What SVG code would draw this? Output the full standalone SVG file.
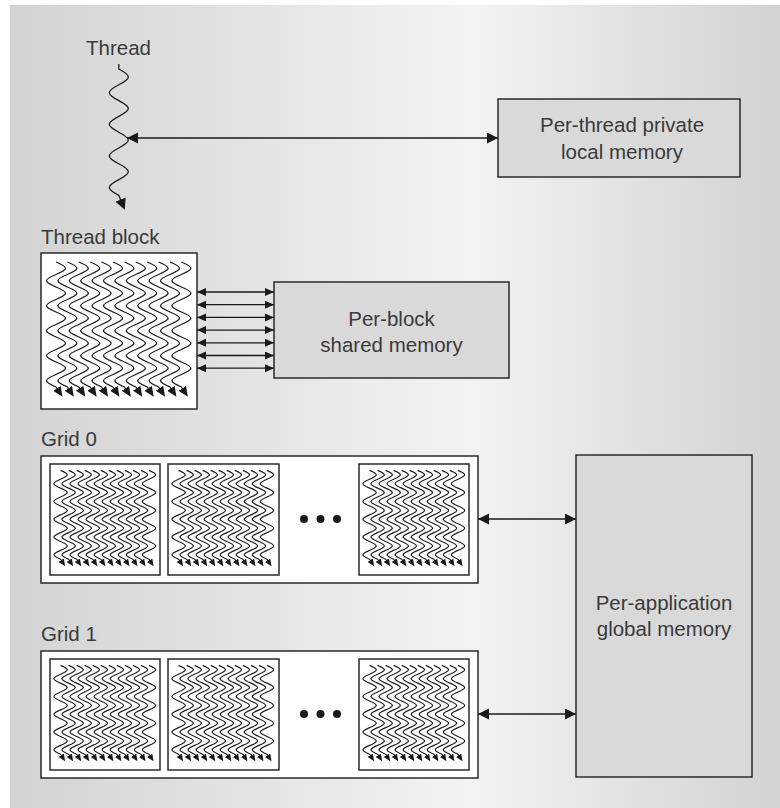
<svg xmlns="http://www.w3.org/2000/svg" xmlns:xlink="http://www.w3.org/1999/xlink" width="780" height="808" viewBox="0 0 780 808">
<style>
  .lbl { font-family: "Liberation Sans", Arial, sans-serif; font-size: 20.5px; fill: #3a3a3a; }
  .ctr { text-anchor: middle; }
  .mem { fill: #d9d9da; stroke: #2a2a2a; stroke-width: 1.5; }
  .blk { fill: #ffffff; stroke: #2a2a2a; stroke-width: 1.5; }
  .wave { fill: none; stroke: #1a1a1a; }
  .conn { stroke: #1a1a1a; stroke-width: 1.3; fill: none; }
</style>
<defs>
  <linearGradient id="bg" x1="0" y1="0" x2="1" y2="0">
    <stop offset="0" stop-color="#d3d3d4"/>
    <stop offset="0.6" stop-color="#f3f3f3"/>
    <stop offset="1" stop-color="#d2d2d3"/>
  </linearGradient>
  <marker id="ah" markerUnits="userSpaceOnUse" markerWidth="12" markerHeight="12" refX="11" refY="5.5" orient="auto-start-reverse">
    <path d="M0,0 L11,5.5 L0,11 z" fill="#1a1a1a"/>
  </marker>
  <marker id="ahs" markerUnits="userSpaceOnUse" markerWidth="10" markerHeight="9" refX="9" refY="4" orient="auto-start-reverse">
    <path d="M0,0 L9,4 L0,8 z" fill="#1a1a1a"/>
  </marker>
  <marker id="ta" markerUnits="userSpaceOnUse" markerWidth="11" markerHeight="11" refX="2" refY="4.5" orient="auto">
    <path d="M0,0 L10,4.5 L0,9 z" fill="#1a1a1a"/>
  </marker>
  <marker id="tb" markerUnits="userSpaceOnUse" markerWidth="12" markerHeight="12" refX="2" refY="5.5" orient="auto">
    <path d="M0,0 L11,5.5 L0,11 z" fill="#1a1a1a"/>
  </marker>
  <path id="w" class="wave" marker-end="url(#ta)" d="M0,9 c12.7,5.3 12.7,7.2 0,12.5 s-12.7,7.2 0,12.5 s12.7,7.2 0,12.5 s-12.7,7.2 0,12.5 s12.7,7.2 0,12.5 s-12.7,7.2 0,12.5 s12.7,7.2 0,12.5 s-12.7,7.2 0,12.5 s12.7,7.2 0,12.5 s-12.7,7.2 0,12.5 l2,3"/>
  <g id="threads">
    <use xlink:href="#w" x="15"/>
    <use xlink:href="#w" x="26.4"/>
    <use xlink:href="#w" x="37.8"/>
    <use xlink:href="#w" x="49.2"/>
    <use xlink:href="#w" x="60.6"/>
    <use xlink:href="#w" x="72"/>
    <use xlink:href="#w" x="83.4"/>
    <use xlink:href="#w" x="94.8"/>
    <use xlink:href="#w" x="106.2"/>
    <use xlink:href="#w" x="117.6"/>
    <use xlink:href="#w" x="129"/>
    <use xlink:href="#w" x="140.4"/>
  </g>
</defs>

<rect x="10" y="5" width="770" height="803" fill="url(#bg)"/>

<g id="thread">
  <text class="lbl ctr" x="118.5" y="55">Thread</text>
  <path class="wave" stroke-width="1.3" marker-end="url(#tb)" d="M118.8,64 c0,2 0,3 0,5 c12.7,6.7 12.7,9.1 0,15.8 s-12.7,9.1 0,15.8 s12.7,9.1 0,15.8 s-12.7,9.1 0,15.8 s12.7,9.1 0,15.8 s-12.7,9.1 0,15.8 s12.7,9.1 0,15.8 s-12.7,9.1 0,15.8 l2.5,6"/>
</g>

<g id="local-memory">
  <rect class="mem" x="498" y="99" width="242" height="78"/>
  <text class="lbl ctr" x="622" y="132">Per-thread private</text>
  <text class="lbl ctr" x="622" y="159">local memory</text>
</g>

<g id="thread-block">
  <text class="lbl" x="41" y="244">Thread block</text>
  <rect class="blk" x="41" y="253" width="156" height="156"/>
  <use xlink:href="#threads" stroke-width="1.3" transform="translate(41,253)"/>
</g>

<g id="shared-memory">
  <rect class="mem" x="274" y="282" width="235" height="96"/>
  <text class="lbl ctr" x="391.5" y="326">Per-block</text>
  <text class="lbl ctr" x="391.5" y="352">shared memory</text>
</g>

<g id="grid0">
  <text class="lbl" x="41" y="446">Grid 0</text>
  <rect class="blk" x="41" y="456" width="437" height="127" stroke-width="1.3"/>
  <rect class="blk" x="50" y="464" width="110" height="111"/>
  <use xlink:href="#threads" stroke-width="1.7" transform="translate(50,464) scale(0.705,0.711)"/>
  <rect class="blk" x="168" y="464" width="111" height="111"/>
  <use xlink:href="#threads" stroke-width="1.7" transform="translate(168,464) scale(0.705,0.711)"/>
  <rect class="blk" x="359" y="464" width="110" height="111"/>
  <use xlink:href="#threads" stroke-width="1.7" transform="translate(359,464) scale(0.705,0.711)"/>
  <circle cx="304" cy="519" r="4" fill="#1a1a1a"/>
  <circle cx="320.5" cy="519" r="4" fill="#1a1a1a"/>
  <circle cx="337" cy="519" r="4" fill="#1a1a1a"/>
</g>

<g id="grid1">
  <text class="lbl" x="41" y="641">Grid 1</text>
  <rect class="blk" x="41" y="651" width="437" height="127" stroke-width="1.3"/>
  <rect class="blk" x="50" y="659" width="110" height="111"/>
  <use xlink:href="#threads" stroke-width="1.7" transform="translate(50,659) scale(0.705,0.711)"/>
  <rect class="blk" x="168" y="659" width="111" height="111"/>
  <use xlink:href="#threads" stroke-width="1.7" transform="translate(168,659) scale(0.705,0.711)"/>
  <rect class="blk" x="359" y="659" width="110" height="111"/>
  <use xlink:href="#threads" stroke-width="1.7" transform="translate(359,659) scale(0.705,0.711)"/>
  <circle cx="304" cy="714" r="4" fill="#1a1a1a"/>
  <circle cx="320.5" cy="714" r="4" fill="#1a1a1a"/>
  <circle cx="337" cy="714" r="4" fill="#1a1a1a"/>
</g>

<g id="global-memory">
  <rect class="mem" x="576" y="455" width="176" height="322"/>
  <text class="lbl ctr" x="664" y="610">Per-application</text>
  <text class="lbl ctr" x="664" y="636">global memory</text>
</g>

<g id="connectors">
  <line class="conn" x1="127" y1="138" x2="498" y2="138" marker-start="url(#ah)" marker-end="url(#ah)"/>
  <line class="conn" x1="197" y1="292" x2="274" y2="292" marker-start="url(#ahs)" marker-end="url(#ahs)"/>
  <line class="conn" x1="197" y1="304.7" x2="274" y2="304.7" marker-start="url(#ahs)" marker-end="url(#ahs)"/>
  <line class="conn" x1="197" y1="317.4" x2="274" y2="317.4" marker-start="url(#ahs)" marker-end="url(#ahs)"/>
  <line class="conn" x1="197" y1="330.1" x2="274" y2="330.1" marker-start="url(#ahs)" marker-end="url(#ahs)"/>
  <line class="conn" x1="197" y1="342.8" x2="274" y2="342.8" marker-start="url(#ahs)" marker-end="url(#ahs)"/>
  <line class="conn" x1="197" y1="355.5" x2="274" y2="355.5" marker-start="url(#ahs)" marker-end="url(#ahs)"/>
  <line class="conn" x1="197" y1="368.2" x2="274" y2="368.2" marker-start="url(#ahs)" marker-end="url(#ahs)"/>
  <line class="conn" x1="478" y1="519" x2="576" y2="519" marker-start="url(#ah)" marker-end="url(#ah)"/>
  <line class="conn" x1="478" y1="714" x2="576" y2="714" marker-start="url(#ah)" marker-end="url(#ah)"/>
</g>
</svg>
